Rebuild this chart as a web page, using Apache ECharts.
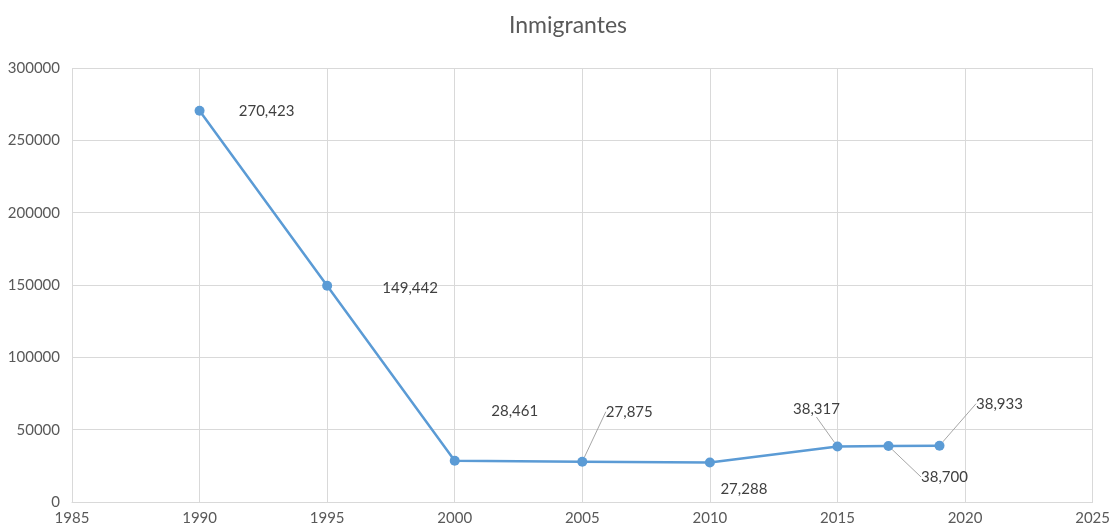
<!DOCTYPE html>
<html><head><meta charset="utf-8">
<script src="https://cdn.jsdelivr.net/npm/echarts@6/dist/echarts.min.js"></script>
<style>html,body{margin:0;padding:0;background:#fff}#c{width:1113px;height:530px}</style>
</head><body><div id="c"></div>
<script>
const years = [1990, 1995, 2000, 2005, 2010, 2015, 2017, 2019];
const values = [270423, 149442, 28461, 27875, 27288, 38317, 38700, 38933];
const title = 'Inmigrantes';
// label offsets (style only)
const labelOffsets = [[67,0,false],[83,2,false],[60,-50,false],[47,-50,true],[34,27,false],[-21,-37,true],[56,31,true],[60,-42,true]];
const font = 'Lato, "Noto Sans", sans-serif';
const chart = echarts.init(document.getElementById('c'));
chart.setOption({
  animation: false,
  title: {text: title, left: 504, top: 9, textStyle: {fontFamily: font, fontSize: 23, fontWeight: 'normal', color: '#595959'}},
  grid: {left: 72, right: 18, top: 68, bottom: 28},
  xAxis: {type: 'value', min: 1985, max: 2025, interval: 5,
    axisLine: {show: true, lineStyle: {color: '#d9d9d9'}}, axisTick: {show: false},
    axisLabel: {fontFamily: font, fontSize: 15, color: '#595959', margin: 9, formatter: v => String(v)},
    splitLine: {show: true, lineStyle: {color: '#d9d9d9'}}},
  yAxis: {type: 'value', min: 0, max: 300000, interval: 50000,
    axisLine: {show: false}, axisTick: {show: false},
    axisLabel: {fontFamily: font, fontSize: 15, color: '#595959', margin: 12, formatter: v => String(v)},
    splitLine: {show: true, lineStyle: {color: '#d9d9d9'}}},
  series: [{
    type: 'line',
    data: years.map((y, i) => ({
      value: [y, values[i]],
      labelLine: {show: labelOffsets[i][2]}
    })),
    symbol: 'circle', symbolSize: 10,
    lineStyle: {color: '#5b9bd5', width: 2.5},
    itemStyle: {color: '#5b9bd5'},
    label: {show: true, position: 'inside', fontFamily: font, fontSize: 15, color: '#404040',
      formatter: p => p.value[1].toLocaleString('en-US')},
    labelLine: {lineStyle: {color: '#a6a6a6', width: 1}},
    labelLayout: p => ({dx: labelOffsets[p.dataIndex][0], dy: labelOffsets[p.dataIndex][1]})
  }]
});
</script></body></html>
